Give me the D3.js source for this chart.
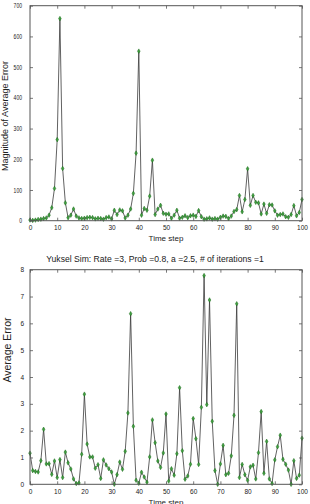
<!DOCTYPE html>
<html>
<head>
<meta charset="utf-8">
<script src="https://cdn.jsdelivr.net/npm/d3@7"></script>
<style>
  html, body { margin: 0; padding: 0; background: #fff; }
  svg { display: block; }
  text { font-family: "Liberation Sans", Arial, sans-serif; fill: #222; }
</style>
</head>
<body>
<svg id="chart" width="310" height="504"></svg>
<script>
// ---- data ----
const timeSteps = d3.range(0, 101);

const magnitudeError = [
  2, 1, 2, 4, 5, 7, 9, 18, 42, 105,
  264, 658, 170, 58, 10, 18, 38, 15, 9, 7,
  8, 10, 11, 10, 6, 8, 7, 5, 10, 12,
  6, 34, 20, 35, 32, 9, 18, 38, 89, 220,
  552, 18, 40, 34, 80, 197, 20, 38, 50, 24,
  21, 22, 8, 18, 34, 8, 11, 16, 10, 16,
  18, 14, 33, 13, 5, 6, 9, 5, 7, 5,
  11, 15, 14, 7, 15, 30, 36, 82, 29, 69,
  169, 50, 82, 60, 58, 22, 54, 24, 52, 51,
  32, 18, 20, 22, 13, 11, 20, 49, 16, 27,
  69
];

const averageError = [
  1.16, 0.51, 0.48, 0.46, 0.88, 2.05, 0.76, 0.77, 0.37, 0.87,
  0.25, 0.92, 0.25, 1.20, 0.80, 0.57, 0.20, 0.03, 0.05, 1.12,
  3.36, 1.50, 1.02, 1.02, 0.60, 0.73, 0.22, 0.91, 0.72, 0.58,
  0.46, 0.00, 0.36, 0.83, 0.56, 1.23, 2.66, 6.36, 2.16, 0.15,
  0.04, 0.45, 0.27, 0.08, 1.02, 2.40, 1.55, 0.87, 0.63, 1.17,
  2.62, 0.12, 0.58, 0.34, 1.14, 3.60, 1.25, 0.19, 0.31, 0.75,
  2.45, 1.70, 0.74, 2.87, 7.78, 2.97, 6.87, 2.35, 0.51, 0.00,
  0.76, 1.45, 0.36, 0.41, 1.06, 2.57, 6.73, 0.25, 0.74, 0.36,
  0.15, 0.65, 0.71, 0.20, 1.18, 2.71, 0.41, 1.60, 0.20, 0.03,
  0.91, 1.40, 1.83, 0.93, 0.75, 0.53, 0.00, 0.88, 0.22, 0.34,
  1.72
];

const xTicks = d3.range(0, 101, 10);
const yTicksTop = d3.range(0, 701, 100);
const yTicksBottom = d3.range(0, 9, 1);

const titleBottom = "Yuksel Sim: Rate =3, Prob =0.8, a =2.5, # of iterations =1";
const xLabel = "Time step";
const yLabelTop = "Magnitude of Average Error";
const yLabelBottom = "Average Error";

// ---- drawing ----
const svg = d3.select("#chart");
const left = 30, right = 302;

function panel(opts) {
  const x = d3.scaleLinear().domain([0, 100]).range([left, right]);
  const y = d3.scaleLinear().domain(opts.yDomain).range([opts.bottom, opts.top]);
  const g = svg.append("g");

  // line
  g.append("path")
    .datum(opts.values)
    .attr("fill", "none")
    .attr("stroke", "#3a3a3a")
    .attr("stroke-width", 0.8)
    .attr("d", d3.line().x((d, i) => x(timeSteps[i])).y(d => y(d)));

  // markers
  g.selectAll("path.mk")
    .data(opts.values)
    .join("path")
    .attr("class", "mk")
    .attr("transform", (d, i) => `translate(${x(timeSteps[i])},${y(d)})`)
    .attr("d", d3.symbol(d3.symbolDiamond, 6)())
    .attr("fill", "#3f9f3f")
    .attr("stroke", "#1d6a1d")
    .attr("stroke-width", 0.5);

  // axes with inward ticks on all sides
  const tl = 3;
  const axB = d3.axisBottom(x).tickValues(xTicks).tickSizeInner(-tl).tickSizeOuter(0).tickPadding(5);
  const axT = d3.axisTop(x).tickValues(xTicks).tickSizeInner(-tl).tickSizeOuter(0).tickFormat("");
  const axL = d3.axisLeft(y).tickValues(opts.yTicks).tickSizeInner(-tl).tickSizeOuter(0).tickPadding(opts.yPad);
  const axR = d3.axisRight(y).tickValues(opts.yTicks).tickSizeInner(-tl).tickSizeOuter(0).tickFormat("");

  const gb = g.append("g").attr("transform", `translate(0,${opts.bottom})`).call(axB);
  const gt = g.append("g").attr("transform", `translate(0,${opts.top})`).call(axT);
  const gl = g.append("g").attr("transform", `translate(${left},0)`).call(axL);
  const gr = g.append("g").attr("transform", `translate(${right},0)`).call(axR);

  [gb, gt, gl, gr].forEach(a => {
    a.select(".domain").remove();
    a.selectAll(".tick line").attr("stroke", "#555").attr("stroke-width", 0.8);
    a.selectAll(".tick text").attr("font-size", 6.5).attr("fill", "#222")
      .style("font-family", '"Liberation Sans", Arial, sans-serif');
  });
  if (opts.yDigitW) {
    gl.selectAll(".tick text").each(function () {
      const t = d3.select(this);
      t.attr("textLength", t.text().length * opts.yDigitW).attr("lengthAdjust", "spacingAndGlyphs");
    });
  }

  // frame
  g.append("rect")
    .attr("x", left).attr("y", opts.top)
    .attr("width", right - left).attr("height", opts.bottom - opts.top)
    .attr("fill", "none").attr("stroke", "#555").attr("stroke-width", 1);

  // x label
  g.append("text")
    .attr("x", (left + right) / 2).attr("y", opts.bottom + 20.5)
    .attr("text-anchor", "middle").attr("font-size", 8)
    .text(xLabel);

  // y label
  g.append("text")
    .attr("transform", `translate(${opts.yLabelX},${opts.yLabelY}) rotate(-90)`)
    .attr("text-anchor", "middle").attr("font-size", opts.yLabelSize)
    .text(opts.yLabel);

  if (opts.title) {
    g.append("text")
      .attr("x", 155).attr("y", opts.top - 7.5)
      .attr("text-anchor", "middle").attr("font-size", 8.6)
      .text(opts.title);
  }
}

panel({ values: magnitudeError, yDomain: [0, 700], yTicks: yTicksTop,
        top: 5.7, bottom: 220.7, yLabel: yLabelTop, yLabelX: 7.5, yLabelY: 116,
        yLabelSize: 9, yPad: 8, yDigitW: 2.8 });
panel({ values: averageError, yDomain: [0, 8], yTicks: yTicksBottom,
        top: 269.7, bottom: 484.3, yLabel: yLabelBottom, yLabelX: 10.5, yLabelY: 350,
        yLabelSize: 10.5, yPad: 6, title: titleBottom });
</script>
</body>
</html>
